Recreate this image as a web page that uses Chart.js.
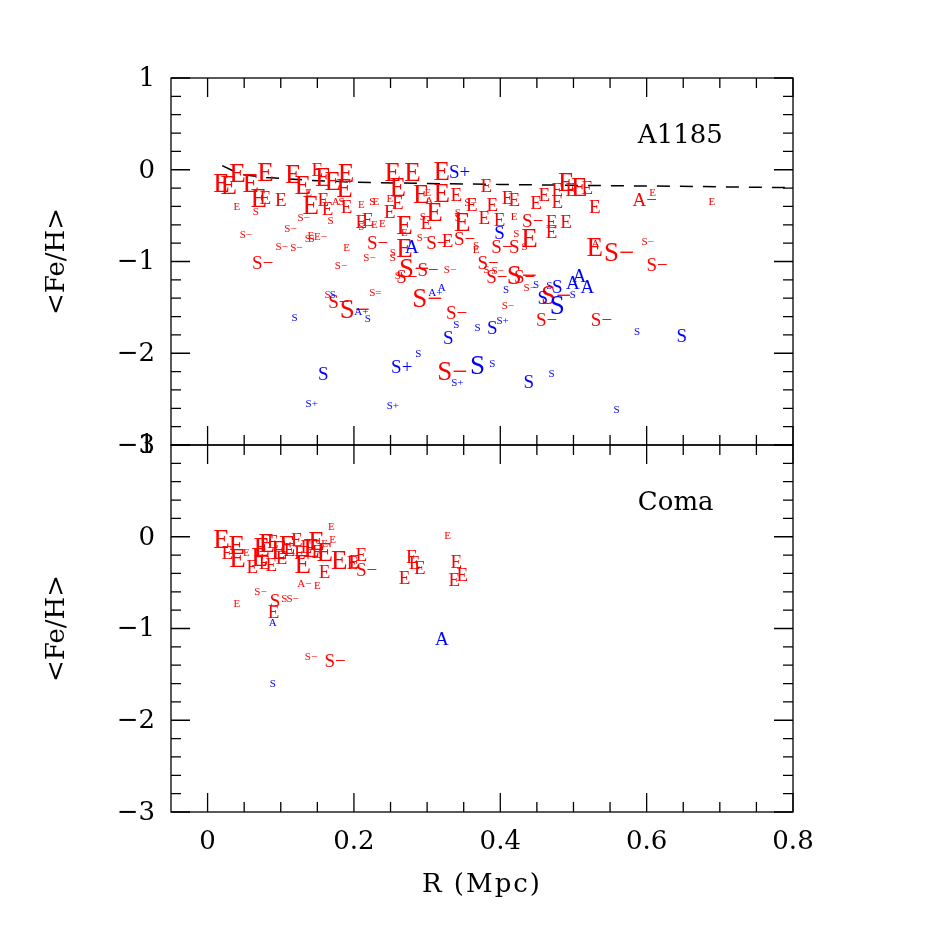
<!DOCTYPE html>
<html>
<head>
<meta charset="utf-8">
<style>
  html, body { margin: 0; padding: 0; background: #fff; }
</style>
<script src="https://cdn.jsdelivr.net/npm/chart.js@4.4.1/dist/chart.umd.min.js"></script>
</head>
<body>
<canvas id="chart" width="926" height="926"></canvas>
<script>
// A1185 galaxies: radius (Mpc), <Fe/H>, morphology label, symbol size class, set (0 = red, 1 = blue)
const a1185R = [
  0.019,0.029,0.041,0.059,0.079,0.070,0.079,0.100,0.117,0.130,
  0.150,0.158,0.171,0.189,0.187,0.138,0.141,0.158,0.164,0.175,
  0.183,0.190,0.040,0.066,0.127,0.168,0.109,0.048,0.137,0.142,
  0.141,0.150,0.097,0.117,0.068,0.190,0.178,0.253,0.260,0.280,
  0.320,0.337,0.292,0.301,0.303,0.320,0.340,0.381,0.410,0.419,
  0.210,0.225,0.230,0.249,0.260,0.355,0.361,0.389,0.419,0.249,
  0.310,0.294,0.299,0.342,0.342,0.348,0.378,0.399,0.399,0.210,
  0.219,0.210,0.228,0.239,0.269,0.269,0.225,0.217,0.253,0.253,
  0.269,0.279,0.290,0.306,0.328,0.344,0.367,0.367,0.395,0.419,
  0.272,0.294,0.327,0.376,0.381,0.392,0.419,0.260,0.490,0.508,
  0.497,0.519,0.478,0.590,0.608,0.689,0.449,0.460,0.478,0.529,
  0.437,0.470,0.490,0.470,0.422,0.440,0.433,0.529,0.530,0.552,
  0.597,0.607,0.508,0.436,0.449,0.467,0.478,0.499,0.519,0.466,
  0.499,0.458,0.478,0.456,0.531,0.587,0.648,0.439,0.470,0.559,
  0.265,0.388,0.426,0.225,0.290,0.307,0.320,0.408,0.406,0.333,
  0.340,0.329,0.369,0.389,0.399,0.288,0.258,0.324,0.337,0.369,
  0.389,0.249,0.119,0.164,0.171,0.172,0.191,0.206,0.219,0.158,0.138
];
const a1185Fe = [
  -0.15,-0.17,-0.04,-0.14,-0.03,-0.31,-0.30,-0.33,-0.05,-0.17,
  0.00,-0.08,-0.12,-0.04,-0.20,-0.25,-0.38,-0.33,-0.42,-0.35,
  -0.35,-0.40,-0.40,-0.45,-0.52,-0.55,-0.64,-0.70,-0.75,-0.75,
  -0.71,-0.73,-0.84,-0.85,-1.01,-0.85,-1.04,-0.03,-0.19,-0.03,
  -0.02,-0.02,-0.27,-0.25,-0.33,-0.25,-0.27,-0.17,-0.31,-0.33,
  -0.38,-0.35,-0.35,-0.31,-0.36,-0.36,-0.38,-0.38,-0.51,-0.46,
  -0.46,-0.51,-0.58,-0.46,-0.52,-0.57,-0.52,-0.55,-0.69,-0.57,
  -0.55,-0.62,-0.60,-0.58,-0.60,-0.68,-0.80,-0.95,-0.90,-0.96,
  -0.85,-0.84,-0.74,-0.79,-0.77,-0.75,-0.82,-0.87,-0.84,-0.84,
  -1.07,-1.09,-1.09,-1.01,-1.09,-1.10,-1.15,-1.15,-0.13,-0.19,
  -0.22,-0.20,-0.22,-0.33,-0.25,-0.35,-0.36,-0.27,-0.35,-0.40,
  -0.56,-0.57,-0.57,-0.68,-0.69,-0.74,-0.84,-0.84,-0.80,-0.90,
  -0.78,-1.04,-1.15,-1.28,-1.25,-1.26,-1.28,-1.23,-1.28,-1.37,
  -1.36,-1.39,-1.48,-1.64,-1.63,-1.76,-1.81,-2.31,-2.22,-2.61,
  -1.17,-1.17,-1.17,-1.34,-1.40,-1.34,-1.28,-1.30,-1.48,-1.56,
  -1.69,-1.83,-1.72,-1.72,-1.64,-2.00,-2.15,-2.19,-2.32,-2.13,
  -2.11,-2.57,-1.61,-1.36,-1.36,-1.44,-1.52,-1.54,-1.62,-2.22,-2.55
];
const a1185Type = [
  'E','E','E','E','E','E','E','E','E','E',
  'E','E','E','E','E','E','E','E','E','A',
  'S','E','E','S','S-','S','S-','S-','S','S',
  'E','E-','S-','S-','S-','E','S-','E','E','E',
  'E','S+','E','E','A','E','E','E','E','E',
  'E','S','E','E','E','S-','E','E','E','E',
  'E','S','E','S','S','E','E','E','S','E',
  'E','S','E','E','E','E','S-','S-','S','S',
  'E','A','S-','S-','E','S-','S','E','S-','S',
  'S-','S-','S-','S-','S','S-','S-','S','E','E',
  'E','E','E','A-','E','E','E','E','E','E',
  'S-','E','E','E','S','E','S','E','A','S-',
  'S-','S-','A','S-','S','S','S','A','A','S-',
  'S','S','S','S-','S-','S','S','S','S','S',
  'S-','S-','S-','S=','S-','A+','A','S','S-','S-',
  'S','S','S','S','S+','S','S+','S-','S+','S',
  'S','S+','S','S','S','S-','S-','A+','S','S','S+'
];
const a1185Size = [
  3,3,3,3,3,3,2,2,3,3,
  2,3,3,3,3,1,3,2,2,1,
  1,2,1,1,1,1,1,1,1,1,
  1,1,1,1,2,1,1,3,3,3,
  3,2,3,1,1,3,2,2,2,2,
  1,1,1,1,2,1,2,2,1,2,
  3,1,2,1,1,3,2,2,2,2,
  2,1,1,1,3,1,2,1,1,1,
  3,2,1,2,2,2,1,1,2,2,
  3,2,1,2,1,1,3,1,3,3,
  2,2,2,2,1,1,2,2,2,2,
  2,2,2,2,1,3,1,3,1,3,
  1,2,2,1,1,1,2,2,2,3,
  1,2,3,2,2,1,2,2,1,1,
  2,2,2,1,3,1,1,1,1,2,
  1,2,1,2,1,1,2,3,1,3,
  1,1,1,1,1,2,3,1,1,2,1
];
const a1185Set = [
  0,0,0,0,0,0,0,0,0,0,
  0,0,0,0,0,0,0,0,0,0,
  0,0,0,0,0,0,0,0,0,0,
  0,0,0,0,0,0,0,0,0,0,
  0,1,0,0,0,0,0,0,0,0,
  0,0,0,0,0,0,0,0,0,0,
  0,0,0,0,0,0,0,0,1,0,
  0,0,0,0,0,0,0,0,0,0,
  0,1,0,0,0,0,0,0,0,0,
  0,0,0,0,0,0,0,0,0,0,
  0,0,0,0,0,0,0,0,0,0,
  0,0,0,0,0,0,0,0,0,0,
  0,0,1,0,1,1,1,1,1,0,
  1,1,1,0,0,1,1,1,1,1,
  0,0,0,0,0,1,1,1,0,0,
  1,1,1,1,1,1,1,0,1,1,
  1,1,1,0,1,0,0,1,1,1,1
];

// Coma galaxies
const comaR = [
  0.019,0.040,0.027,0.041,0.053,0.061,0.074,0.071,0.078,0.087,
  0.081,0.089,0.098,0.101,0.109,0.112,0.122,0.126,0.130,0.135,
  0.142,0.149,0.150,0.160,0.160,0.171,0.169,0.160,0.180,0.198,
  0.210,0.210,0.201,0.068,0.128,0.150,0.040,0.092,0.105,0.112,
  0.090,0.089,0.320,0.137,0.167,0.089,0.328,0.279,0.283,0.290,
  0.269,0.340,0.348,0.337
];
const comaFe = [
  -0.03,-0.09,-0.17,-0.23,-0.17,-0.33,-0.11,-0.22,-0.28,-0.30,
  -0.07,-0.05,-0.14,-0.23,-0.09,-0.14,-0.03,-0.17,-0.30,-0.11,
  -0.12,-0.05,-0.16,-0.07,-0.17,-0.03,0.11,-0.38,-0.25,-0.28,
  -0.36,-0.20,-0.27,-0.60,-0.51,-0.53,-0.73,-0.70,-0.67,-0.67,
  -0.82,-0.93,-1.11,-1.30,-1.35,-1.60,0.02,-0.22,-0.28,-0.34,
  -0.45,-0.27,-0.41,-0.47
];
const comaType = [
  'E','E','E','E','E','E','E','E','E','E',
  'E','E','E','E','E','E','E','E','E','E',
  'E','E','E','E','E','E','E','E','E','E',
  'S-','E','E','S-','A-','E','E','S','S','S-',
  'E','A','A','S-','S-','S','E','E','E','E',
  'E','E','E','E'
];
const comaSize = [
  3,3,2,3,1,2,3,3,2,2,
  3,2,3,2,3,2,2,2,3,2,
  3,3,2,1,3,1,1,2,3,2,
  2,2,2,1,1,1,1,2,1,1,
  2,1,2,1,2,1,1,2,2,2,
  2,2,2,2
];
const comaSet = [
  0,0,0,0,0,0,0,0,0,0,
  0,0,0,0,0,0,0,0,0,0,
  0,0,0,0,0,0,0,0,0,0,
  0,0,0,0,0,0,0,0,0,0,
  0,1,1,0,0,1,0,0,0,0,
  0,0,0,0
];

// dashed trend in the A1185 panel
const fitR  = [0.02, 0.045, 0.06, 0.08, 0.11, 0.14, 0.2, 0.3, 0.4, 0.5, 0.6, 0.7, 0.8];
const fitFe = [0.045, -0.05, -0.065, -0.085, -0.1, -0.115, -0.135, -0.15, -0.16, -0.17, -0.177, -0.186, -0.195];

// axes
const xTickValues = [0, 0.2, 0.4, 0.6, 0.8];
const xTickLabels = ['0', '0.2', '0.4', '0.6', '0.8'];
const yTickValues = [1, 0, -1, -2, -3];
const yTickLabels = ['1', '0', '\u22121', '\u22122', '\u22123'];
const panelNames = ['A1185', 'Coma'];

const setColour = ['#ff0000', '#0000ff'];
const sizeFont = [0, 11, 19, 27];

function points(r, fe, type, size, set, which) {
  const out = [];
  r.forEach((v, i) => {
    if (set[i] === which) out.push({ x: v, y: fe[i], type: type[i], size: size[i] });
  });
  return out;
}

function markerSet(yAxisID, r, fe, type, size, set, which) {
  return {
    type: 'scatter',
    yAxisID,
    data: points(r, fe, type, size, set, which),
    markerColour: setColour[which],
    pointRadius: 0,
    pointHoverRadius: 0
  };
}

// draw each galaxy as its morphology label, centred on the first letter
const textMarkers = {
  id: 'textMarkers',
  afterDatasetsDraw(chart) {
    const ctx = chart.ctx;
    const area = chart.chartArea;
    ctx.save();
    ctx.beginPath();
    ctx.rect(area.left, area.top, area.right - area.left, area.bottom - area.top);
    ctx.clip();
    chart.data.datasets.forEach((ds, i) => {
      if (!ds.markerColour) return;
      const meta = chart.getDatasetMeta(i);
      ctx.fillStyle = ds.markerColour;
      ctx.textAlign = 'left';
      ctx.textBaseline = 'alphabetic';
      meta.data.forEach((el, j) => {
        const d = ds.data[j];
        const fs = sizeFont[d.size];
        ctx.font = fs + 'px "Liberation Serif"';
        const text = d.type.replace('-', '\u2212');
        const w0 = ctx.measureText(text[0]).width;
        ctx.fillText(text, el.x - w0 / 2, el.y + fs * 0.33);
      });
    });
    ctx.restore();
  }
};

// boxes, inward ticks on all sides, tick labels and titles
const frame = {
  id: 'frame',
  afterDraw(chart) {
    const { ctx, scales } = chart;
    const xs = scales.x;
    const L = chart.chartArea.left, R = chart.chartArea.right;
    const font = '26px "DejaVu Serif"';
    ctx.save();
    ctx.strokeStyle = '#000';
    ctx.lineWidth = 1.3;
    [scales.yTop, scales.yBot].forEach((ys, p) => {
      const T = ys.getPixelForValue(1), B = ys.getPixelForValue(-3);
      ctx.strokeRect(L, T, R - L, B - T);
      ctx.beginPath();
      for (let k = 0; k <= 16; k++) {
        const v = k * 0.05;
        const px = xs.getPixelForValue(v);
        const len = k % 4 === 0 ? 19 : 10;
        ctx.moveTo(px, B); ctx.lineTo(px, B - len);
        ctx.moveTo(px, T); ctx.lineTo(px, T + len);
      }
      for (let k = 0; k <= 20; k++) {
        const v = -3 + k * 0.2;
        const py = ys.getPixelForValue(v);
        const len = k % 5 === 0 ? 19 : 10;
        ctx.moveTo(L, py); ctx.lineTo(L + len, py);
        ctx.moveTo(R, py); ctx.lineTo(R - len, py);
      }
      ctx.stroke();

      ctx.fillStyle = '#000';
      ctx.font = font;
      ctx.textAlign = 'right';
      ctx.textBaseline = 'middle';
      yTickValues.forEach((v, i) => {
        ctx.fillText(yTickLabels[i], L - 16, ys.getPixelForValue(v) + 1);
      });

      ctx.save();
      ctx.translate(L - 114, ys.getPixelForValue(-1));
      ctx.rotate(-Math.PI / 2);
      ctx.textAlign = 'center';
      ctx.fillText('<Fe/H>', 0, 0);
      ctx.restore();

      ctx.textAlign = 'left';
      ctx.fillText(panelNames[p], xs.getPixelForValue(0.588), ys.getPixelForValue(0.36));
    });

    const B = scales.yBot.getPixelForValue(-3);
    ctx.textAlign = 'center';
    ctx.textBaseline = 'middle';
    xTickValues.forEach((v, i) => {
      ctx.fillText(xTickLabels[i], xs.getPixelForValue(v), B + 30);
    });
    ctx.letterSpacing = '2px';
    ctx.fillText('R (Mpc)', (L + R) / 2, B + 73);
    ctx.restore();
  }
};

new Chart(document.getElementById('chart'), {
  type: 'scatter',
  data: {
    datasets: [
      {
        type: 'line',
        yAxisID: 'yTop',
        data: fitR.map((v, i) => ({ x: v, y: fitFe[i] })),
        borderColor: '#000',
        borderWidth: 1.5,
        borderDash: [13, 10],
        pointRadius: 0,
        fill: false,
        tension: 0
      },
      markerSet('yTop', a1185R, a1185Fe, a1185Type, a1185Size, a1185Set, 0),
      markerSet('yTop', a1185R, a1185Fe, a1185Type, a1185Size, a1185Set, 1),
      markerSet('yBot', comaR, comaFe, comaType, comaSize, comaSet, 0),
      markerSet('yBot', comaR, comaFe, comaType, comaSize, comaSet, 1)
    ]
  },
  options: {
    responsive: false,
    animation: false,
    layout: { padding: { left: 171, right: 133, top: 78, bottom: 114 } },
    scales: {
      x: { type: 'linear', min: -0.05, max: 0.8, display: false },
      // top panel occupies the upper half, bottom panel the lower half
      yTop: { type: 'linear', position: 'left', min: -7, max: 1, display: false },
      yBot: { type: 'linear', position: 'left', min: -3, max: 5, display: false }
    },
    plugins: {
      legend: { display: false },
      tooltip: { enabled: false }
    }
  },
  plugins: [textMarkers, frame]
});
</script>
</body>
</html>
